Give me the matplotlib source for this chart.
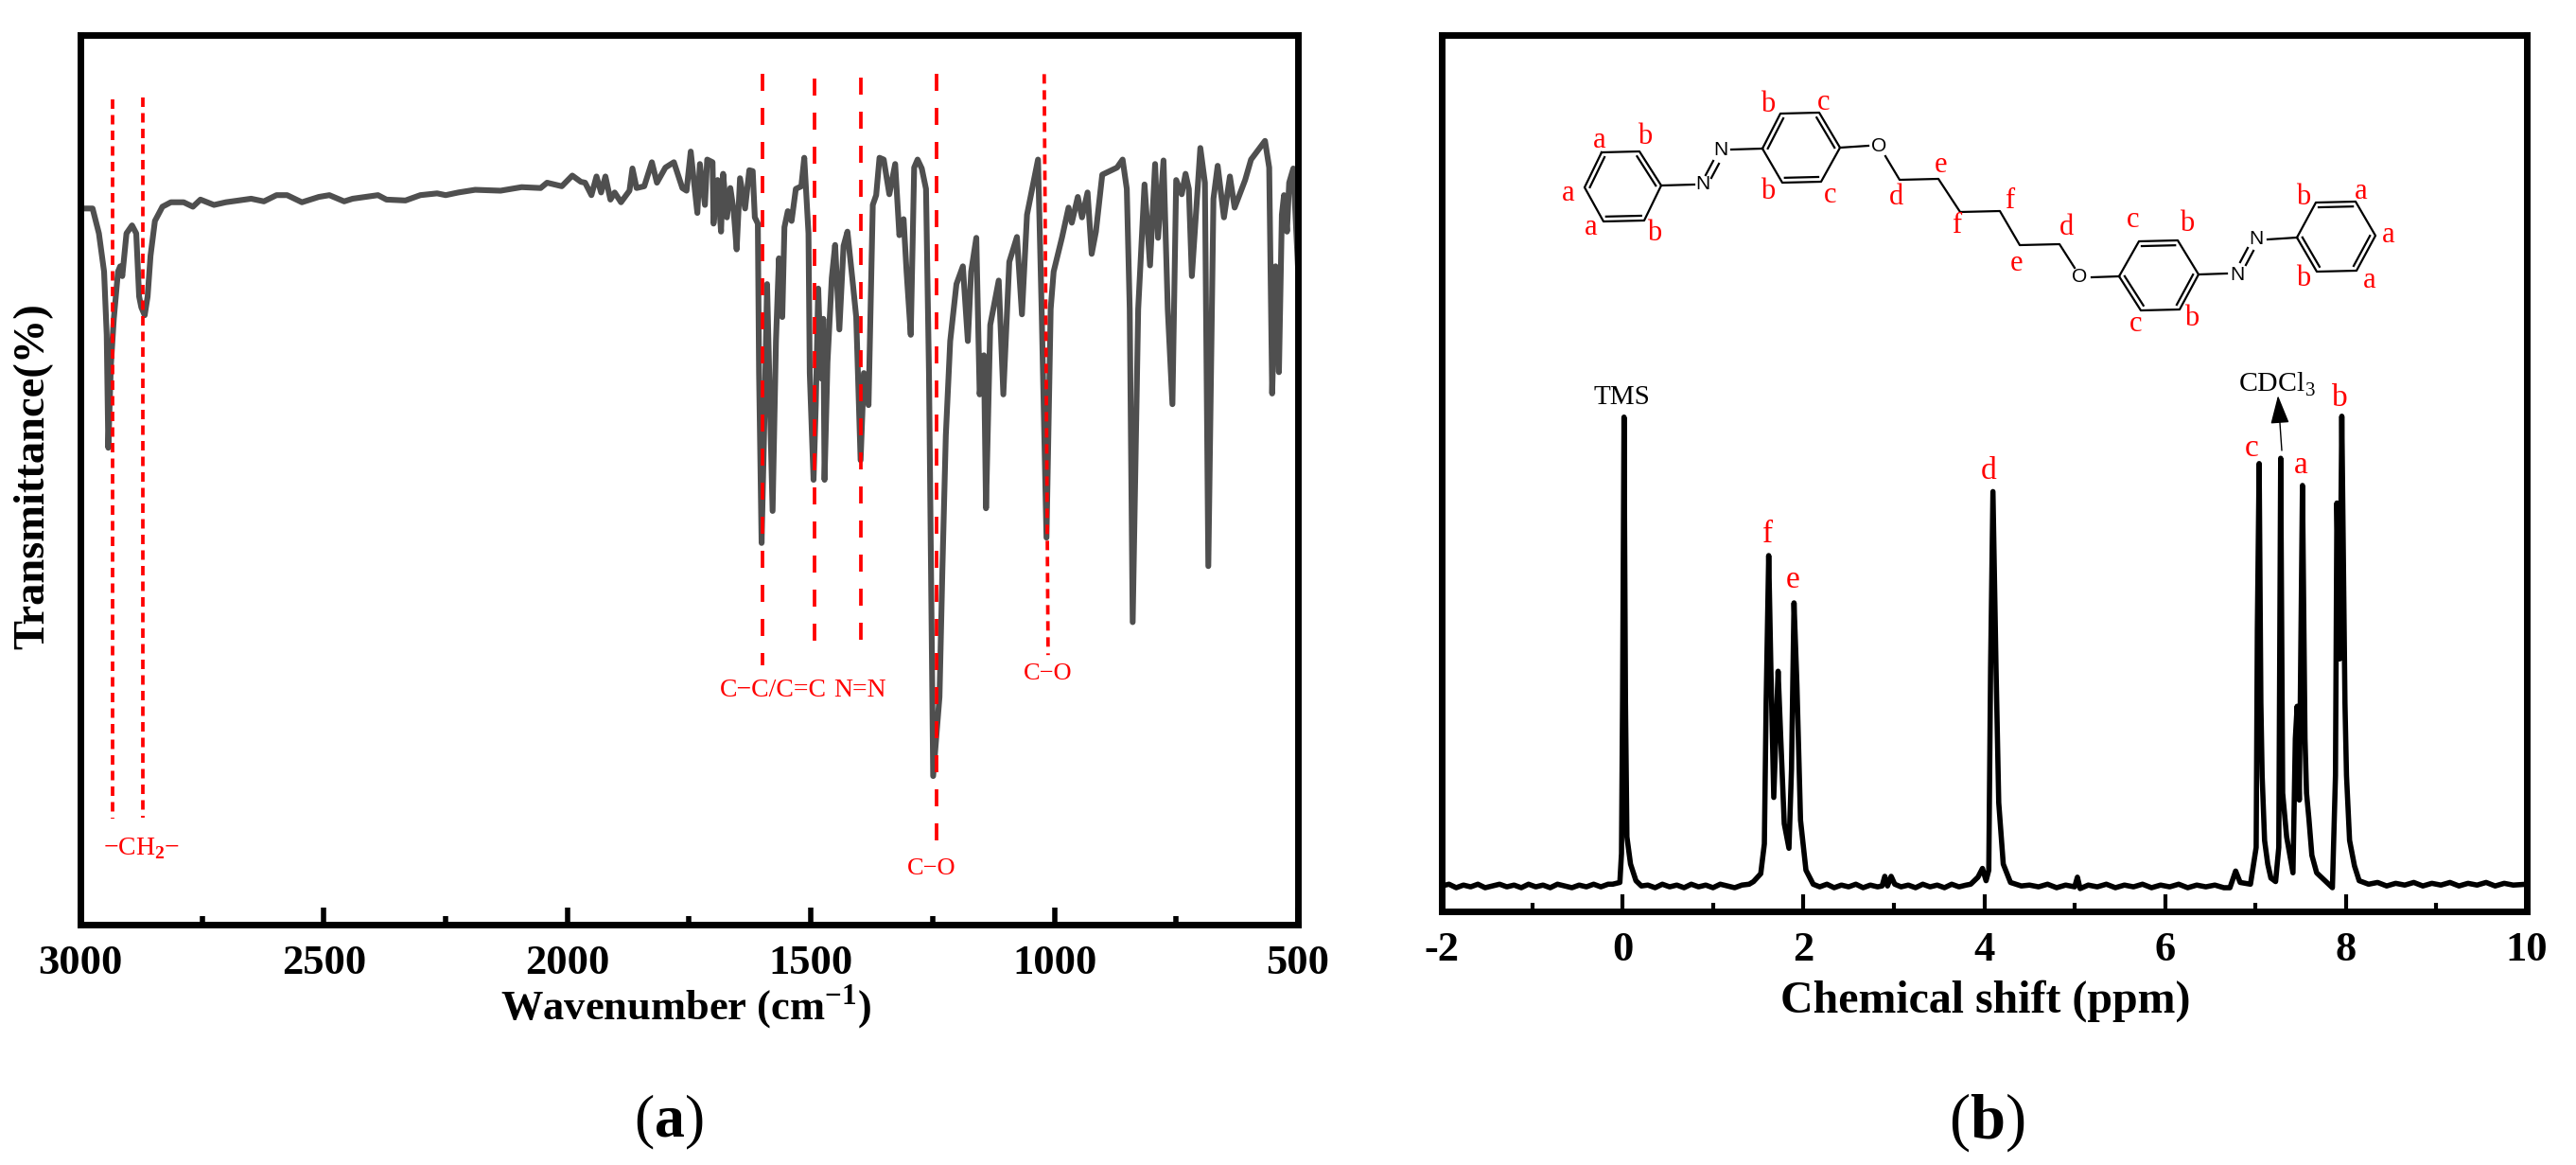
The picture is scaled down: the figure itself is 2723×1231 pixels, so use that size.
import matplotlib
matplotlib.use('Agg')
import matplotlib.pyplot as plt
import numpy as np

W, H = 2723, 1231

plt.rcParams['font.family'] = ['Liberation Serif', 'DejaVu Serif']
plt.rcParams['mathtext.fontset'] = 'custom'
plt.rcParams['mathtext.rm'] = 'Liberation Serif'
plt.rcParams['mathtext.bf'] = 'Liberation Serif:bold'
plt.rcParams['axes.unicode_minus'] = False

# FTIR spectrum
ir_wave = [2996.5, 2975, 2962, 2951.4, 2946, 2942.7, 2937.5, 2931.4, 2922.8, 2918.4, 2914, 2905.4, 2894, 2885.4,
           2879.4, 2875, 2868, 2862, 2856, 2847, 2831.6, 2814.3, 2788, 2769, 2753.5, 2725.7, 2701.4, 2649.4,
           2623.3, 2597.3, 2575.6, 2545.2, 2510.5, 2488.8, 2458.4, 2441, 2389, 2371.6, 2332.6, 2302, 2267.5, 2250,
           2224, 2189.4, 2137.3, 2094, 2055, 2041.8, 2011.5, 1990, 1972.4, 1963.7, 1950.7, 1940.3, 1930.8, 1922,
           1911.7, 1903, 1890, 1872.6, 1866.5, 1858, 1842.2, 1826.6, 1816.2, 1798.8, 1781.4, 1764, 1755.4, 1746.8,
           1733.2, 1728, 1717.6, 1713, 1702, 1700, 1691.6, 1684.6, 1680.3, 1672.5, 1665.5, 1658.6, 1652.5, 1645.6,
           1635.2, 1626.5, 1619.5, 1615.2, 1609, 1606.5, 1601.3, 1595, 1590, 1585.7, 1578.7, 1571.8, 1565.7, 1558.8,
           1554.4, 1547.5, 1539.7, 1531, 1519.7, 1513.7, 1505, 1502.4, 1494.6, 1490, 1485, 1479, 1474.6, 1472, 1466,
           1457.2, 1450.3, 1441.6, 1433, 1425, 1413.8, 1407, 1398, 1391.3, 1381.7, 1373, 1366, 1359.2, 1350.5, 1339,
           1327, 1318.4, 1309.7, 1303.6, 1295, 1288, 1281, 1272.4, 1263.7, 1257.6, 1249, 1236, 1230, 1223, 1214,
           1201.2, 1188, 1177.8, 1171, 1160.4, 1153.5, 1144.8, 1140.5, 1131.8, 1114.4, 1104.9, 1092.7, 1077, 1066.7,
           1056.3, 1033.7, 1026, 1016.3, 1007.7, 1001.6, 984.2, 971, 964.3, 952, 943.4, 932, 923.5, 914.8, 901.8,
           871.4, 860, 851.4, 845.4, 839.3, 828, 815, 803.7, 793.3, 787.2, 776, 767.3, 757.7, 750, 738.6, 730.8, 724,
           717.8, 700.4, 691, 684, 673.5, 664.8, 651.9, 639.7, 630, 608.4, 596.3, 567.6, 559, 552.9, 546, 539, 533,
           528.6, 522.5, 518, 509.5, 500]
ir_trans = [80.5, 80.5, 77.7, 73.4, 66.3, 53.6, 62.8, 68.1, 73.4, 74, 72.9, 77.7, 78.6, 77.7,
            70.6, 69.4, 68.5, 70.6, 75.2, 79.1, 80.7, 81.2, 81.2, 80.7, 81.5, 80.9, 81.2, 81.6,
            81.3, 82, 82, 81.2, 81.8, 82, 81.3, 81.6, 82, 81.5, 81.4, 82, 82.2, 82,
            82.3, 82.6, 82.5, 82.9, 82.8, 83.4, 83, 84.2, 83.5, 83.4, 82, 84.1, 82.3, 84.1,
            81.5, 82.3, 81.2, 82.5, 85, 82.8, 83, 85.7, 83.4, 85.1, 85.7, 82.8, 82.5, 86.9,
            80, 85.5, 80.9, 86, 85.7, 78.8, 83.7, 77.9, 84.4, 79.5, 82.8, 80.2, 75.9, 83.9,
            80.5, 84.8, 84.7, 79.5, 78.8, 62, 42.9, 58, 72, 62, 46.5, 65.6, 74.9, 68.3,
            78.4, 80.2, 79.1, 82.7, 83, 86.2, 77.7, 62, 50, 58.5, 71.5, 61.4, 68.1, 50, 63.2,
            72.7, 76.4, 66.9, 76.3, 77.9, 72, 68.3, 52.2, 62, 58.4, 80.9, 82, 86.2, 86, 82.1,
            85.5, 77.5, 79.3, 73.4, 66.3, 85.1, 86, 85, 82.7, 62, 16.7, 25.6, 40, 55, 65.6,
            72, 74, 65.6, 73.4, 77.2, 59.6, 64, 46.8, 67.4, 72.4, 59.6, 74.5, 77.3, 68.6,
            79.8, 86, 68.5, 43.5, 69.2, 73.4, 77.3, 80.6, 78.9, 81.8, 79.5, 82.3, 75.4, 77.9, 84.3,
            85.1, 86, 82.7, 69.2, 34, 69.2, 83.2, 74.1, 85.5, 77.2, 85.9, 69.2, 58.5, 83.7, 82.1, 84.4, 82.7,
            72.9, 87.3, 83.4, 40.3, 81.6, 85.3, 79.5, 84.1, 80.6, 83.7, 86, 88.1, 85.1, 59.7, 74, 62.1, 79.8,
            82, 77.9, 83.4, 85, 74]

# 1H NMR spectrum, one stretch of the trace per line
nmr_ppm = [-2, -1.92, -1.84, -1.76, -1.68, -1.6, -1.52, -1.44, -1.36, -1.28, -1.2, -1.12, -1.04, -0.96, -0.88, -0.8,
           -0.72, -0.64, -0.56, -0.48, -0.4, -0.32, -0.24, -0.16,
           -0.11, -0.03, -0.012, 0.0, 0.016, 0.032, 0.048, 0.088, 0.148, 0.208,
           0.28, 0.36, 0.44, 0.52, 0.6, 0.68, 0.76, 0.84, 0.92, 1.0, 1.08, 1.16, 1.24, 1.32, 1.4,
           1.448, 1.528, 1.568, 1.588, 1.616, 1.64, 1.672, 1.72, 1.748, 1.788, 1.84, 1.868, 1.896,
           1.928, 1.968, 2.028, 2.108,
           2.18, 2.26, 2.34, 2.42, 2.5, 2.58, 2.66, 2.74, 2.82,
           2.87, 2.9, 2.93, 2.97, 3.01,
           3.08, 3.16, 3.24, 3.32, 3.4, 3.48, 3.56, 3.64, 3.72, 3.8,
           3.85, 3.93, 3.98, 4.02, 4.05, 4.07, 4.096, 4.13, 4.16, 4.21, 4.29, 4.41,
           4.5, 4.6, 4.7, 4.8, 4.9, 5.0, 5.03, 5.06, 5.15, 5.25, 5.35, 5.45, 5.55, 5.65, 5.75, 5.85, 5.95, 6.05, 6.15,
           6.25, 6.35, 6.45, 6.55, 6.65,
           6.717, 6.78, 6.83, 6.944, 7.007, 7.02, 7.04, 7.059, 7.073, 7.1, 7.135, 7.17, 7.222, 7.257, 7.278, 7.3,
           7.344, 7.414, 7.44, 7.46, 7.484, 7.519, 7.547, 7.564, 7.59, 7.623, 7.676,
           7.85, 7.884, 7.9, 7.93, 7.954, 7.989, 8.006, 8.04, 8.094, 8.146,
           8.25, 8.35, 8.45, 8.55, 8.65, 8.75, 8.85, 8.95, 9.05, 9.15, 9.25, 9.35, 9.45, 9.55, 9.65, 9.75, 9.85, 10]
nmr_int = [2.9, 3.1, 2.7, 3.0, 2.8, 3.1, 2.7, 2.9, 3.1, 2.8, 3.0, 2.7, 3.1, 2.8, 3.0, 2.7,
           3.1, 2.9, 2.7, 3.0, 2.8, 3.1, 2.8, 3.1,
           3.1, 3.3, 6.6, 24, 56.4, 24, 8.5, 5.4, 3.5, 2.9,
           3.0, 2.7, 3.1, 2.8, 3.0, 2.7, 3.1, 2.8, 3.0, 2.7, 3.1, 2.9, 2.7, 3.0, 3.1,
           3.4, 4.3, 7.7, 24, 40.6, 27.8, 13, 27.4, 20.1, 10, 7.2, 16.2, 35.2,
           25.9, 10.4, 4.7, 3.1,
           2.8, 3.1, 2.7, 3.0, 2.8, 3.1, 2.7, 3.0, 2.8,
           2.9, 4, 2.9, 4, 3.1,
           2.8, 3.0, 2.7, 3.1, 2.8, 3.0, 2.7, 3.1, 2.8, 3.0,
           3.1, 3.9, 4.9, 3.5, 4.7, 27.8, 47.9, 27.8, 12.4, 5.4, 3.3, 2.9,
           3.0, 2.8, 3.1, 2.7, 3.0, 2.8, 3.9, 2.6, 3.0, 2.8, 3.1, 2.7, 3.0, 2.8, 3.1, 2.7, 3.0, 2.8, 3.1,
           2.7, 3.0, 2.8, 3.0, 2.7,
           2.7, 4.6, 3.3, 3.1, 7.3, 32.1, 51.1, 23.8, 15.5, 8.1, 5.4, 3.8, 3.4, 7.3, 51.7, 13.5,
           8.5, 4.4, 19.7, 23.4, 12.7, 48.6, 19.7, 13.5, 10.6, 6.4, 4.4,
           2.7, 15.5, 46.6, 28.8, 56.5, 23.8, 15.5, 8.1, 5.2, 3.5,
           3.1, 3.3, 2.9, 3.2, 3.0, 3.3, 2.9, 3.2, 3.0, 3.3, 2.9, 3.2, 3.0, 3.3, 2.9, 3.2, 3.0, 3.1]

# assignment lines in the IR panel
mark_top = [2934, 2872.5, 1599.6, 1492, 1396.6, 1241.8, 1021]
mark_bottom = [2934, 2872.5, 1599.6, 1492, 1396.6, 1241.8, 1013]
mark_t_top = [92.8, 93, 95.6, 95.1, 95.2, 95.6, 95.6]
mark_t_bottom = [11.9, 12, 29.2, 31, 31, 8.2, 30.3]
mark_dash = [(10, 6.5), (10, 6.5), (18, 18), (18, 18), (18, 18), (18, 18), (10, 7)]

ir_ticks = [3000, 2500, 2000, 1500, 1000, 500]
ir_minor = [2750, 2250, 1750, 1250, 750]
nmr_ticks = [-2, 0, 2, 4, 6, 8, 10]
nmr_minor = [-1, 1, 3, 5, 7, 9]


def panel(l, t, r, b):
    return fig.add_axes([l / W, 1 - b / H, (r - l) / W, (b - t) / H])


def style(ax, maj, mino, tick_w):
    for s in ax.spines.values():
        s.set_linewidth(5)
    ax.set_xticks(maj)
    ax.set_xticks(mino, minor=True)
    ax.set_yticks([])
    ax.tick_params(axis='x', which='major', direction='in', length=13, width=tick_w, labelsize=32, pad=15)
    ax.tick_params(axis='x', which='minor', direction='in', length=6.5, width=tick_w)
    for lab in ax.get_xticklabels():
        lab.set_fontweight('bold')


fig = plt.figure(figsize=(W / 100, H / 100), dpi=100)

# (a) IR
ax1 = panel(85, 37, 1372, 977)
ax1.plot(ir_wave, ir_trans, color='#4f4f4f', lw=4.4, solid_joinstyle='round', zorder=2)
for x0, x1, t0, t1, d in zip(mark_top, mark_bottom, mark_t_top, mark_t_bottom, mark_dash):
    ax1.plot([x0, x1], [t0, t1], color='#ff0000', lw=2.7, dashes=(d[0] / 3.75, d[1] / 3.75), zorder=3)
ax1.set_xlim(3000, 500)
ax1.set_ylim(0, 100)
style(ax1, ir_ticks, ir_minor, 4)

# (b) NMR
ax2 = panel(1524, 37, 2671, 963)
ax2.plot(nmr_ppm, nmr_int, color='black', lw=4, solid_joinstyle='round')
ax2.set_xlim(-2, 10)
ax2.set_ylim(0, 100)
style(ax2, nmr_ticks, nmr_minor, 3)

# overlay in picture pixels for labels and the structure
ov = fig.add_axes([0, 0, 1, 1], zorder=5)
ov.set_xlim(0, W)
ov.set_ylim(H, 0)
ov.axis('off')
ov.patch.set_alpha(0)


def label(x, y, s, size=20, color='red', **kw):
    ov.text(x, y, s, fontsize=size, color=color, ha='center', va='center', **kw)


label(725, 1064, r'Wavenumber (cm$^{\mathbf{-1}}$)', 32, 'black', fontweight='bold')
label(2099, 1058, 'Chemical shift (ppm)', 34.5, 'black', fontweight='bold')
label(35, 503, 'Transmittance(%)', 33.5, 'black', fontweight='bold', rotation=90)
label(707, 1186, r'($\mathbf{a}$)', 46, 'black')
label(2100, 1186, r'($\mathbf{b}$)', 48, 'black')

label(150, 897, '\u2212CH$_{\\mathbf{2}}$\u2212', 20)
label(817, 730, 'C\u2212C/C=C', 20)
label(909, 730, 'N=N', 20)
label(1108, 712, 'C\u2212O', 19)
label(985, 918, 'C\u2212O', 19)

label(1714, 420, 'TMS', 21, 'black')
label(2407, 406, 'CDCl$_{3}$', 21.5, 'black')
ov.annotate('', xy=(2408, 418), xytext=(2412, 476),
            arrowprops=dict(arrowstyle='-|>,head_width=0.28,head_length=0.85', color='black', lw=1.0, mutation_scale=22,
                            shrinkA=0, shrinkB=0))
for x, y, s in [(1869, 565, 'f'), (1895, 613, 'e'), (2102, 498, 'd'), (2380, 474, 'c'), (2432, 492, 'a'), (2473, 421, 'b')]:
    label(x, y, s, 24)

# structure labels
struct_labels = [(1739, 145, 'b'), (1691, 149, 'a'), (1658, 204, 'a'), (1682, 241, 'a'), (1749, 246, 'b'),
                 (1869, 111, 'b'), (1928, 108, 'c'), (1869, 202, 'b'), (1935, 207, 'c'),
                 (2052, 175, 'e'), (2004, 209, 'd'), (2124, 212, 'f'), (2068, 239, 'f'), (2185, 240, 'd'), (2132, 279, 'e'),
                 (2255, 233, 'c'), (2312, 237, 'b'), (2258, 343, 'c'), (2317, 336, 'b'),
                 (2435, 208, 'b'), (2496, 203, 'a'), (2525, 249, 'a'), (2435, 294, 'b'), (2505, 296, 'a')]
for x, y, s in struct_labels:
    label(x, y, s, 22)

# rings: vertices and which edges carry the second line
rings = [([(1693, 161), (1733, 160), (1756, 196), (1738, 233), (1695, 234), (1675, 198)], [1, 3, 5]),
         ([(1863, 157), (1882, 120), (1923, 119), (1945, 156), (1925, 192), (1884, 193)], [0, 2, 4]),
         ([(2240, 292), (2261, 255), (2302, 254), (2324, 290), (2304, 327), (2263, 328)], [1, 3, 5]),
         ([(2428, 251), (2448, 214), (2490, 213), (2511, 249), (2491, 286), (2449, 287)], [1, 3, 5])]
bonds = [[(1756, 196), (1791, 195)], [(1830, 158), (1863, 157)], [(1945, 156), (1975, 154)],
         [(1993, 165), (2008, 190), (2049, 189), (2072, 224), (2114, 223), (2135, 259), (2177, 258), (2193, 283)],
         [(2211, 293), (2240, 292)], [(2324, 290), (2354, 289)], [(2397, 253), (2428, 251)],
         [(1803, 185), (1811, 170)], [(1809, 188), (1817, 173)], [(2368, 277), (2376, 262)], [(2374, 280), (2382, 265)]]

for verts, doubles in rings:
    v = np.array(verts + verts[:1], float)
    ov.plot(v[:, 0], v[:, 1], color='black', lw=1.6)
    c = v[:-1].mean(axis=0)
    for i in doubles:
        a, b = v[i], v[i + 1]
        a2 = a + (c - a) * 0.14
        b2 = b + (c - b) * 0.14
        ov.plot([a2[0], b2[0]], [a2[1], b2[1]], color='black', lw=1.6)
for seg in bonds:
    s = np.array(seg, float)
    ov.plot(s[:, 0], s[:, 1], color='black', lw=1.6)
for x, y, s in [(1800, 195, 'N'), (1819, 159, 'N'), (1986, 154, 'O'), (2198, 293, 'O'), (2365, 290, 'N'), (2385, 253, 'N')]:
    label(x, y, s, 15, 'black', family='Liberation Sans')

fig.savefig('out.png', dpi=100)
